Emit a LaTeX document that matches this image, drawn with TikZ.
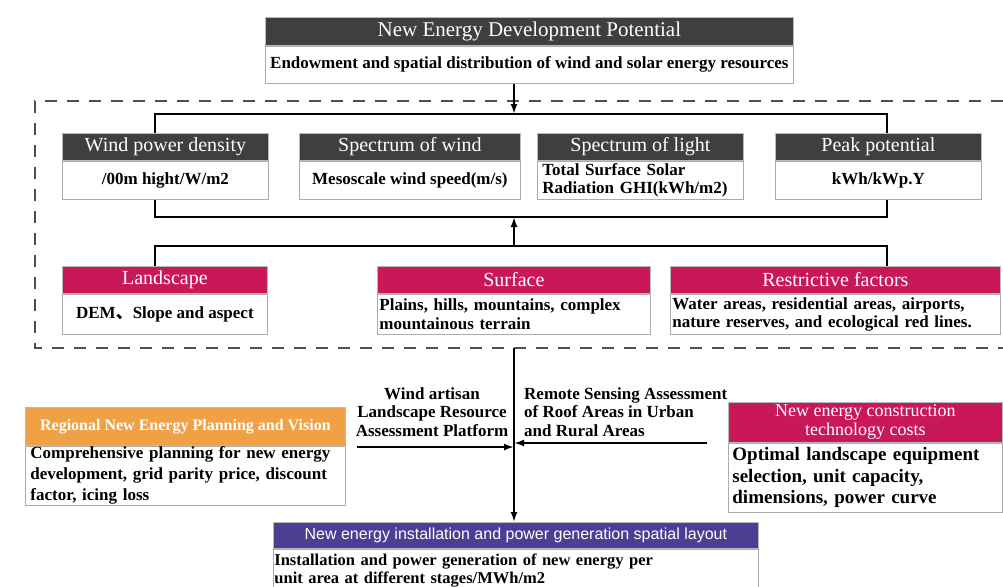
\documentclass[tikz,border=0pt]{standalone}
\usepackage{fontspec}
\setmainfont{Liberation Serif}
\newfontfamily\hsans{Liberation Sans}
\newfontfamily\cjk{Noto Sans CJK SC}
\usetikzlibrary{arrows.meta}
\definecolor{hdrgray}{HTML}{3F3F3F}
\definecolor{crim}{HTML}{C9185A}
\definecolor{orng}{HTML}{F0A146}
\definecolor{purp}{HTML}{4B3F94}
\definecolor{dashc}{HTML}{505050}
\newcommand\hdrfont{\fontsize{20}{22}\selectfont}
\newcommand\bdfont{\fontsize{17}{18.5}\selectfont\bfseries}
\begin{document}
\begin{tikzpicture}[x=1pt,y=-1pt,
  hdr/.style={anchor=north west, draw=gray!55, line width=0.8pt, text=white, inner sep=0pt, align=center, font=\hdrfont},
  bd/.style={anchor=north, draw=gray!65, line width=1pt, fill=white, inner sep=0pt, align=center, font=\bdfont},
  conn/.style={line width=2.2pt, black},
  tip/.style={-{Latex[length=10pt,width=7pt]}},
  lbl/.style={font=\bdfont, inner sep=0pt}]
\useasboundingbox (0,0) rectangle (1003,586);
\fill[white] (0,0) rectangle (1003,586);

% dashed frame
\draw[dashc, line width=2.5pt, dash pattern=on 12pt off 10pt] (1003,101) -- (35,101) -- (35,348) -- (1003,348);

% top box
\node[hdr, fill=hdrgray, minimum width=528pt, minimum height=28pt, font=\fontsize{21}{23}\selectfont] (toph) at (265,17) {New Energy Development Potential};
\node[bd, minimum width=528pt, minimum height=37pt] (topb) at (toph.south) {Endowment and spatial distribution of wind and solar energy resources};

% row 1
\node[hdr, fill=hdrgray, minimum width=206pt, minimum height=27pt] (windh) at (62,133) {Wind power density};
\node[bd, minimum width=206pt, minimum height=38pt] (windb) at (windh.south) {/00m hight/W/m2};
\node[hdr, fill=hdrgray, minimum width=221pt, minimum height=27pt] (swh) at (299,133) {Spectrum of wind};
\node[bd, minimum width=221pt, minimum height=38pt] (swb) at (swh.south) {Mesoscale wind speed(m/s)};
\node[hdr, fill=hdrgray, minimum width=206pt, minimum height=27pt] (slh) at (537,133) {Spectrum of light};
\node[bd, minimum width=206pt, minimum height=38pt, align=left, text width=196pt] (slb) at (slh.south) {Total Surface Solar\\Radiation GHI(kWh/m2)};
\node[hdr, fill=hdrgray, minimum width=206pt, minimum height=27pt] (pkh) at (775,133) {Peak potential};
\node[bd, minimum width=206pt, minimum height=38pt] (pkb) at (pkh.south) {kWh/kWp.Y};

% row 2
\node[hdr, fill=crim, minimum width=205pt, minimum height=27pt] (landh) at (62,266) {Landscape};
\node[bd, minimum width=205pt, minimum height=40pt] (landb) at (landh.south) {DEM{\cjk 、}Slope and aspect};
\node[hdr, fill=crim, minimum width=273pt, minimum height=27pt] (surfh) at (377,266) {Surface};
\node[bd, minimum width=273pt, minimum height=40pt, align=left, text width=269pt] (surfb) at (surfh.south) {Plains, hills, mountains, complex\\mountainous terrain};
\node[hdr, fill=crim, minimum width=330pt, minimum height=27pt] (resh) at (670,266) {Restrictive factors};
\node[bd, minimum width=330pt, minimum height=40pt, align=left, text width=326pt] (resb) at (resh.south) {Water areas, residential areas, airports,\\nature reserves, and ecological red lines.};

% lower left box
\node[hdr, fill=orng, minimum width=320pt, minimum height=38pt, font=\fontsize{16}{18}\selectfont\bfseries] (regh) at (25,407) {Regional New Energy Planning and Vision};
\node[bd, minimum width=320pt, minimum height=59pt, align=left, text width=310pt, font=\fontsize{17}{21}\selectfont\bfseries] (regb) at (regh.south) {Comprehensive planning for new energy\\development, grid parity price, discount\\factor, icing loss};

% lower right box
\node[hdr, fill=crim, minimum width=274pt, minimum height=40pt, font=\fontsize{18}{19}\selectfont] (costh) at (728,402) {New energy construction\\technology costs};
\node[bd, minimum width=274pt, minimum height=69pt, align=left, text width=266pt, font=\fontsize{19}{21.5}\selectfont\bfseries] (costb) at (costh.south) {Optimal landscape equipment\\selection, unit capacity,\\dimensions, power curve};

% bottom box
\node[hdr, fill=purp, minimum width=485pt, minimum height=26pt, font=\hsans\fontsize{16}{18}\selectfont] (both) at (273,522) {New energy installation and power generation spatial layout};
\node[bd, minimum width=485pt, minimum height=42pt, align=left, text width=483pt, font=\fontsize{16.5}{17.5}\selectfont\bfseries] (botb) at (both.south) {Installation and power generation of new energy per\\unit area at different stages/MWh/m2};

% connector coordinates
\coordinate (b1l) at (155,114);
\coordinate (b1m) at (514,114);
\coordinate (b1r) at (887,114);
\coordinate (b2l) at (155,217);
\coordinate (b2m) at (514,217);
\coordinate (b2r) at (887,217);
\coordinate (b3l) at (155,246);
\coordinate (b3m) at (514,246);
\coordinate (b3r) at (887,246);
\coordinate (vtop) at (514,348);
\coordinate (la) at (357,447);
\coordinate (ra) at (707,443);

% connectors
\draw[conn, tip] (topb.south -| b1m) -- (b1m);
\draw[conn] (windh.north -| b1l) -- (b1l) -- (b1r) -- (pkh.north -| b1r);
\draw[conn] (windb.south -| b2l) -- (b2l) -- (b2r) -- (pkb.south -| b2r);
\draw[conn, tip] (b3m) -- (b2m);
\draw[conn] (landh.north -| b3l) -- (b3l) -- (b3r) -- (resh.north -| b3r);
\draw[conn, tip] (vtop) -- (both.north -| vtop);
\draw[conn, tip] (la) -- (la -| vtop);
\draw[conn, tip] (ra) -- (ra -| vtop);

% labels
\node[lbl, align=center] (wl) at (432,412) {Wind artisan\\Landscape Resource\\Assessment Platform};
\node[lbl, align=left, anchor=west] (rl) at (524,412) {Remote Sensing Assessment\\of Roof Areas in Urban\\and Rural Areas};
\end{tikzpicture}
\end{document}
